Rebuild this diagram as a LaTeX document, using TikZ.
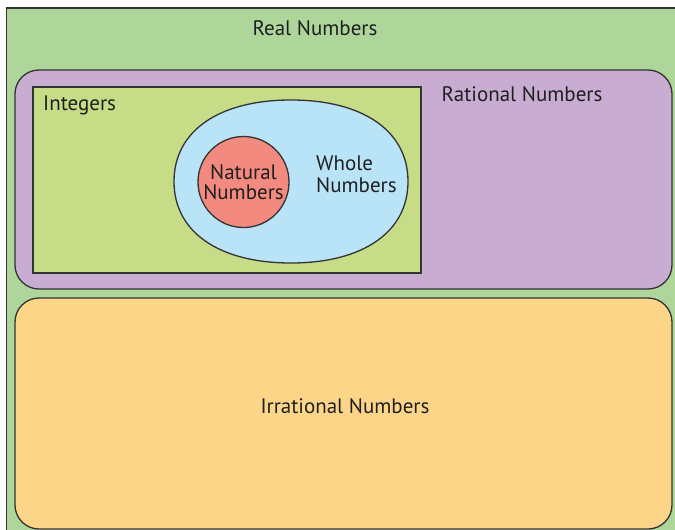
\documentclass[tikz,border=0pt]{standalone}
\usepackage{fontspec}
\setmainfont{PT Sans}
\definecolor{realc}{HTML}{AED69A}
\definecolor{ratc}{HTML}{C9ACD2}
\definecolor{intc}{HTML}{C6DC87}
\definecolor{wholec}{HTML}{B9E4F8}
\definecolor{natc}{HTML}{F28A80}
\definecolor{irrc}{HTML}{FDD589}
\definecolor{edgec}{HTML}{333333}
\tikzset{
  region/.style={draw=edgec, line width=1.3pt},
  lbl/.style={font=\fontsize{21}{20}\selectfont, text=black!88, align=center, inner sep=0pt}
}
\begin{document}
\begin{tikzpicture}[x=1pt,y=-1pt]
\useasboundingbox (0,0) rectangle (675,530);
\fill[white] (0,0) rectangle (675,530);
\path[region, fill=realc] (6.5,8) rectangle (690,545);
\path[region, fill=ratc, rounded corners=24pt] (15,70) rectangle (672,289);
\path[region, fill=intc] (33,87) rectangle (421,273);
% whole numbers: slightly squarish ellipse
\coordinate (wc) at (291,181.5);
\path[region, fill=wholec]
  (174,181.5) .. controls (174,131) and (219,100) .. (291,100)
  .. controls (363,100) and (408,131) .. (408,181.5)
  .. controls (408,232) and (363,263) .. (291,263)
  .. controls (219,263) and (174,232) .. (174,181.5) -- cycle;
\node[region, fill=natc, circle, minimum size=91pt, inner sep=0pt] (nat) at (243.5,182) {};
\path[region, fill=irrc, rounded corners=24pt] (15,298) rectangle (672,529);
\node[lbl] (real) at (315,28) {Real Numbers};
\node[lbl] (rat) at (522,94) {Rational Numbers};
\node[lbl, anchor=west] (int) at (43,105) {Integers};
\node[lbl, font=\fontsize{21}{20}\selectfont] (natl) at (243.5,182) {Natural\\Numbers};
\node[lbl, font=\fontsize{21}{22}\selectfont, align=left, anchor=west] (wholel) at (316,174) {Whole\\Numbers};
\node[lbl] (irr) at (345,406) {Irrational Numbers};
\end{tikzpicture}
\end{document}
